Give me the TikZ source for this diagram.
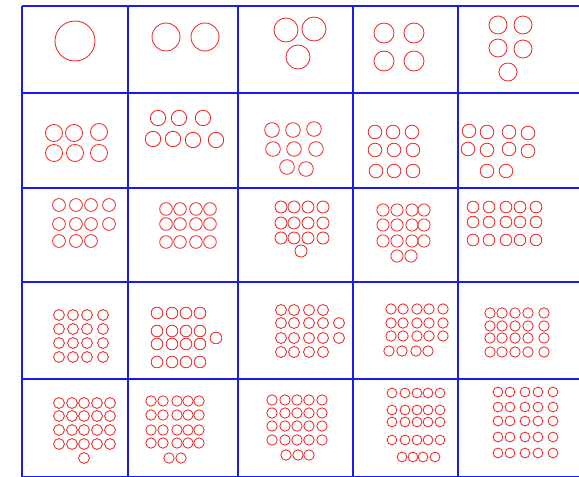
\documentclass[tikz,border=0pt]{standalone}
\usepackage{xcolor}
\definecolor{cGrid}{HTML}{1A1AF5}
\definecolor{cRing}{HTML}{EE2A2A}
\usepackage{tikz}
\tikzset{
  grid-line/.style={draw=cGrid,line width=1.3pt},
  ring/.style={draw=cRing,line width=0.85pt},
}

\begin{document}
\begin{tikzpicture}[x=1pt,y=-1pt]
  \useasboundingbox (0,0) rectangle (579,477);
  % table rules
  \foreach \y in {6,93,188,282,379,477}{
    \draw[grid-line] (22,\y) -- (579,\y);
  }
  \foreach \x in {22,128,238,353,458}{
    \draw[grid-line] (\x,6) -- (\x,477);
  }
  % row 1: n = 1..5
  \draw[ring] (75,41) circle[radius=20pt];
  \foreach \x/\y in {166/37,205/37} \draw[ring] (\x,\y) circle[radius=14pt];
  \foreach \x/\y in {286/30,314/29,298/57} \draw[ring] (\x,\y) circle[radius=12pt];
  \foreach \x/\y in {384/33,414/33,384/61,414/61} \draw[ring] (\x,\y) circle[radius=10pt];
  \foreach \x/\y in {498/25,523/25,498/48,523/49,508/72} \draw[ring] (\x,\y) circle[radius=9pt];
  % row 2: n = 6..10
  \foreach \x/\y in {54/133,74/133,99/132,54/153,75/153,99/153}
    \draw[ring] (\x,\y) circle[radius=8.5pt];
  \foreach \x/\y in {158/118,179/118,203/118,153/139,173/139,193/140,216/140}
    \draw[ring] (\x,\y) circle[radius=7.7pt];
  \foreach \x/\y in {272/130,293/130,314/129,273/149,294/149,316/149,287/167,306/169}
    \draw[ring] (\x,\y) circle[radius=7.3pt];
  \foreach \x/\y in {375/132,393/132,412/132,375/150,394/150,413/150,376/171,394/171,413/171}
    \draw[ring] (\x,\y) circle[radius=6.8pt];
  \foreach \x/\y in {469/131,487/132,509/132,528/133,468/149,487/150,509/149,528/151,487/171,506/171}
    \draw[ring] (\x,\y) circle[radius=6.8pt];
  % row 3: n = 11..15
  \foreach \x in {59,76,91,109} \foreach \y in {205,224}
    \draw[ring] (\x,\y) circle[radius=6.4pt];
  \foreach \x in {59,76,91} \draw[ring] (\x,241) circle[radius=6.4pt];
  \foreach \x in {166,180,196,210} \foreach \y in {209,224,242}
    \draw[ring] (\x,\y) circle[radius=6.3pt];
  \foreach \x in {281,294,308,323} \foreach \y in {207,223,238}
    \draw[ring] (\x,\y) circle[radius=6pt];
  \draw[ring] (301,251) circle[radius=6pt];
  \foreach \x in {383,397,412,424} \foreach \y in {210,225,241}
    \draw[ring] (\x,\y) circle[radius=6.1pt];
  \foreach \x in {397,411} \draw[ring] (\x,256) circle[radius=6.1pt];
  \foreach \x in {473,489,506,520,536} \foreach \y in {207,222,240}
    \draw[ring] (\x,\y) circle[radius=5.8pt];
  % row 4: n = 16..20
  \foreach \x in {59,73,87,103} \foreach \y in {315,329,343,357}
    \draw[ring] (\x,\y) circle[radius=5.4pt];
  \foreach \x in {157,172,186,200} \foreach \y in {313,331,344,362}
    \draw[ring] (\x,\y) circle[radius=5.8pt];
  \draw[ring] (216,338) circle[radius=5.8pt];
  \foreach \x in {281,294,309,323} \foreach \y in {310,323,338,352}
    \draw[ring] (\x,\y) circle[radius=5.5pt];
  \foreach \y in {323,338} \draw[ring] (339,\y) circle[radius=5.5pt];
  \foreach \x in {391,403,417,429,443} \foreach \y in {309,323,336}
    \draw[ring] (\x,\y) circle[radius=5.2pt];
  \foreach \x in {389,402,416,428} \draw[ring] (\x,351) circle[radius=5.2pt];
  \foreach \x in {490,502,515,528,544} \foreach \y in {313,326,338,352}
    \draw[ring] (\x,\y) circle[radius=5.2pt];
  % row 5: n = 21..25
  \foreach \x in {59,72,84,97,110} \foreach \y in {403,416,430,444}
    \draw[ring] (\x,\y) circle[radius=5.4pt];
  \draw[ring] (84,458) circle[radius=5.4pt];
  \foreach \x in {151,163,177,188,199} \foreach \y in {401,415,430,443}
    \draw[ring] (\x,\y) circle[radius=5.2pt];
  \foreach \x in {169,181} \draw[ring] (\x,458) circle[radius=5.2pt];
  \foreach \x in {272,285,297,309,322} \foreach \y in {400,413,426,440}
    \draw[ring] (\x,\y) circle[radius=5.2pt];
  \foreach \x in {286,298,309} \draw[ring] (\x,455) circle[radius=5.2pt];
  \foreach \x in {392,405,417,428,440} \foreach \y in {393,410,422,440}
    \draw[ring] (\x,\y) circle[radius=4.9pt];
  \foreach \x in {402,413,423,435} \draw[ring] (\x,457) circle[radius=4.9pt];
  \foreach \x in {498,510,525,538,553} \foreach \y in {392,407,421,437,453}
    \draw[ring] (\x,\y) circle[radius=4.9pt];
\end{tikzpicture}
\end{document}
